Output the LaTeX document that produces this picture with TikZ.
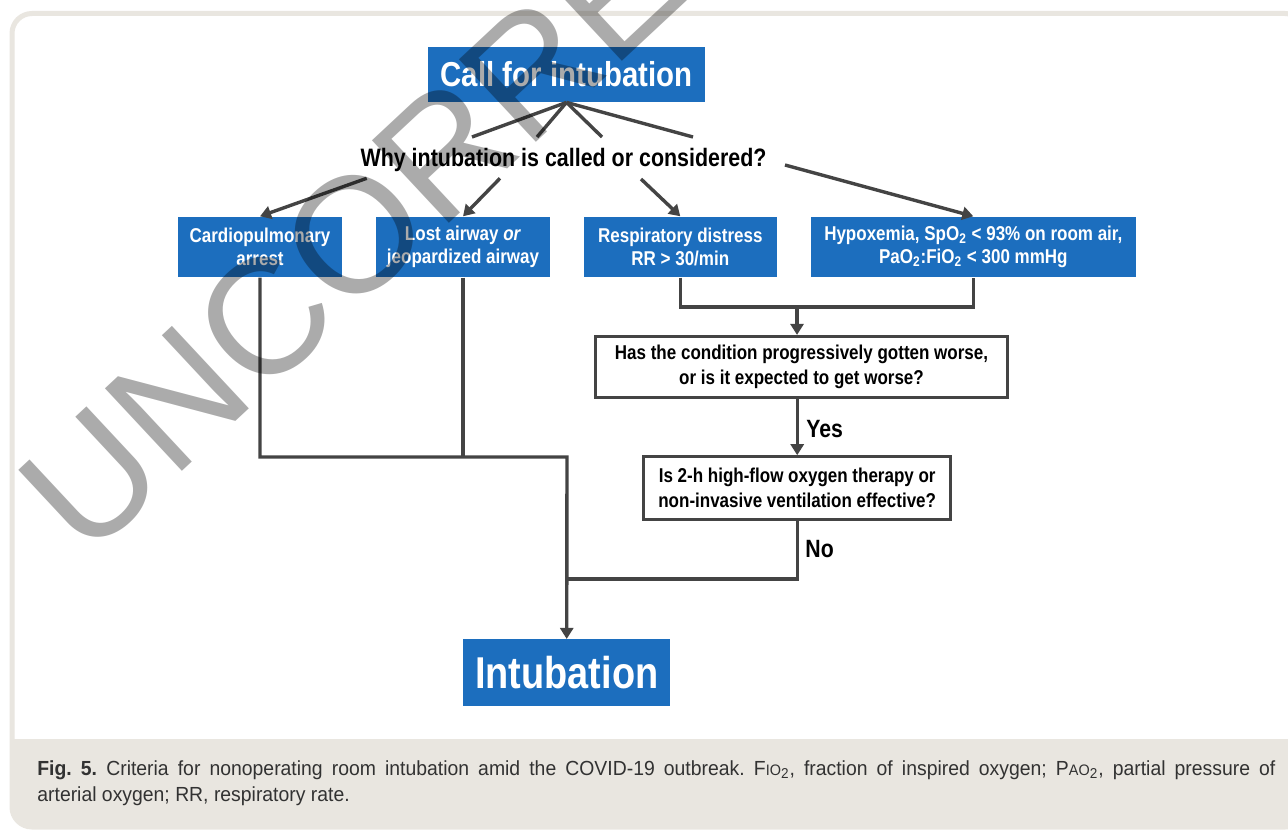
\documentclass[tikz,border=0pt]{standalone}
\usepackage{fontspec}
\usetikzlibrary{arrows.meta}
\newfontfamily\dfont[FakeStretch=0.85]{Liberation Sans}
\newfontfamily\cfont[FakeStretch=0.95]{Liberation Sans}
\newfontfamily\wfont{Liberation Sans}
\definecolor{boxblue}{RGB}{28,110,190}
\definecolor{linegrey}{RGB}{68,68,68}
\definecolor{panelbeige}{RGB}{233,230,224}
\definecolor{captext}{RGB}{50,50,50}
\begin{document}
\begin{tikzpicture}[x=0.5pt,y=-0.5pt,
  bluebox/.style={fill=boxblue,text=white,align=center,inner sep=0pt,
    font=\dfont\bfseries\fontsize{10}{11.2}\selectfont},
  qbox/.style={draw=linegrey,line width=1.6pt,fill=white,text=black,align=center,inner sep=0pt,
    font=\dfont\bfseries\fontsize{10}{12.8}\selectfont},
  conn/.style={draw=linegrey,line width=1.7pt},
  arr/.style={conn,-{Triangle[length=5.5pt,width=6.5pt]}},
  lbl/.style={font=\dfont\bfseries\fontsize{12.5}{14}\selectfont,text=black,inner sep=0pt},
  wmark/.style={font=\wfont\fontsize{82}{82}\selectfont,text=black,text opacity=0.33,inner sep=0pt}
]
\useasboundingbox (0,0) rectangle (1288,829);
\fill[white] (0,0) rectangle (1288,829);
% panel
\fill[panelbeige] (11,739) {[rounded corners=10pt] -- (11,828) -- (1306,828)} -- (1306,739) -- cycle;
\draw[panelbeige,line width=2.5pt,rounded corners=10pt] (12,13.5) rectangle (1305,827);

% nodes
\node[bluebox,minimum width=138.5pt,minimum height=27.5pt,
  font=\dfont\bfseries\fontsize{17.3}{19}\selectfont] (call) at (566.5,74.5) {Call for intubation};
\node[lbl,anchor=base,font=\dfont\bfseries\fontsize{12.6}{14}\selectfont] (why) at (563.5,166.5) {Why intubation is called or considered?};
\node[bluebox,minimum width=81.7pt,minimum height=30.3pt] (cardio) at (260,247) {Cardiopulmonary\\arrest};
\node[bluebox,minimum width=87pt,minimum height=30.3pt] (lost) at (463,247) {Lost airway \textit{or}\\jeopardized airway};
\node[bluebox,minimum width=96.35pt,minimum height=30.3pt] (resp) at (680.3,247) {Respiratory distress\\RR > 30/min};
\node[bluebox,minimum width=162.65pt,minimum height=30.3pt] (hypo) at (973.3,247)
  {Hypoxemia, SpO\textsubscript{2} < 93\% on room air,\\PaO\textsubscript{2}:FiO\textsubscript{2} < 300 mmHg};
\node[qbox,minimum width=206pt,minimum height=30.5pt] (has) at (801.5,367)
  {Has the condition progressively gotten worse,\\or is it expected to get worse?};
\node[qbox,minimum width=153.5pt,minimum height=31.2pt,
  font=\dfont\bfseries\fontsize{10}{12.5}\selectfont] (is2h) at (797.2,488)
  {Is 2-h high-flow oxygen therapy or\\non-invasive ventilation effective?};
\node[bluebox,minimum width=103.35pt,minimum height=33.35pt,
  font=\dfont\bfseries\fontsize{22.3}{24}\selectfont] (intub) at (566.7,672.7) {Intubation};
\node[lbl,anchor=west] (yes) at (806,429) {Yes};
\node[lbl,anchor=west] (no) at (805,549) {No};

% fan lines from call box
\coordinate (f1) at (472,137);
\coordinate (f2) at (537,137);
\coordinate (f3) at (602,137);
\coordinate (f4) at (693,137);
\foreach \f in {f1,f2,f3,f4} \draw[conn] (call.south) -- (\f);

% arrows from the question to the boxes
\coordinate (w1) at (366.7,178.3);
\coordinate (w2) at (500,178.3);
\coordinate (w3) at (641,179);
\coordinate (w4) at (785,165);
\draw[arr] (w1) -- (cardio.north);
\draw[arr] (w2) -- (lost.north);
\draw[arr] (w3) -- (resp.north);
\draw[arr] (w4) -- (hypo.north);

% right branch
\coordinate (jr) at (797,307);
\draw[conn] (resp.south) -- (resp.south |- jr) -- (hypo.south |- jr) -- (hypo.south);
\draw[arr] (jr) -- (jr |- has.north);
\draw[arr] (has.south -| is2h.north) -- (is2h.north);
\coordinate (jn) at (567,579);
\draw[conn] (is2h.south) |- (jn);

% left branch
\coordinate (jl) at (567,457);
\draw[arr] (cardio.south) |- (jl) -- (intub.north);
\draw[conn] (lost.south) -- (lost.south |- jl);

% caption
\node[anchor=north west,text width=619pt,align=justify,inner sep=0pt,text=captext,
  font=\cfont\fontsize{10.2}{13}\selectfont] (cap) at (37,760)
  {\frenchspacing\textbf{Fig.~5.}\hspace{0.45em}Criteria for nonoperating room intubation amid the COVID-19 outbreak.
   F{\fontsize{7.6}{8}\selectfont IO}\textsubscript{2}, fraction of inspired oxygen;
   P{\fontsize{7.6}{8}\selectfont AO}\textsubscript{2}, partial pressure of\linebreak
   arterial oxygen; RR, respiratory rate.};

% watermark
\begin{scope}
\clip (0,0) rectangle (1288,829);
\node[wmark,rotate=43,anchor=base west] (wm) at (86,562) {UNCORRECTED PROOF};
\end{scope}
\end{tikzpicture}
\end{document}
